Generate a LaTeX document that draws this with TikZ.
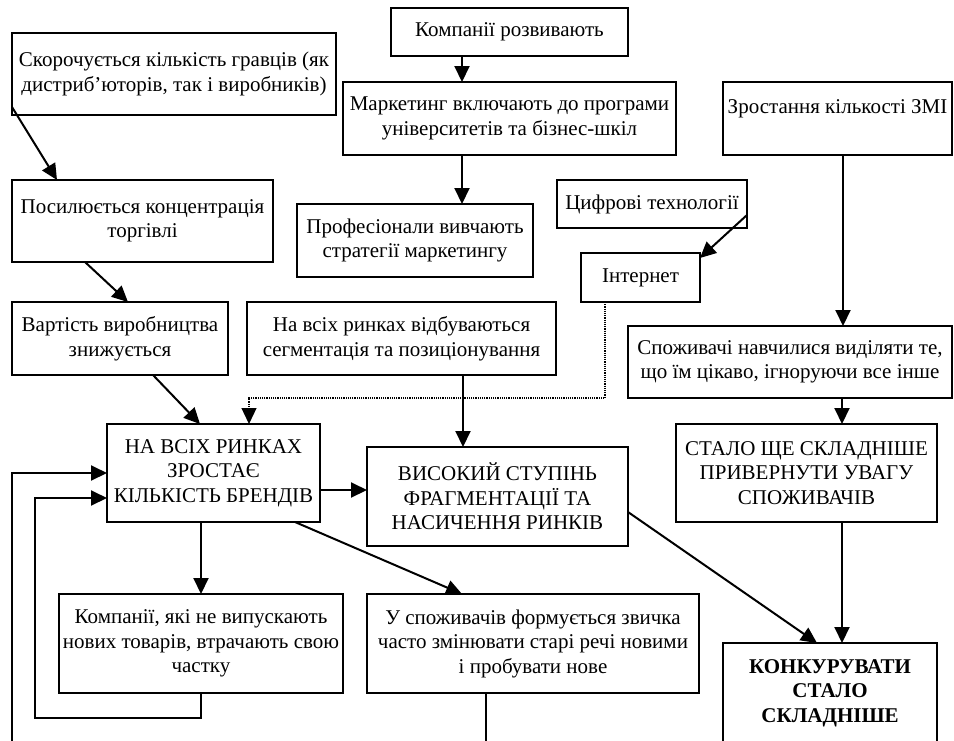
\documentclass[tikz,border=0pt]{standalone}
\usepackage{fontspec}
\setmainfont{Liberation Serif}
\usetikzlibrary{arrows.meta}
\tikzset{
  box/.style={draw, line width=1.5pt, rectangle, inner sep=0pt, outer sep=0pt, align=center,
    font=\fontsize{21}{24.5}\selectfont},
  arr/.style={line width=2pt, -{Triangle[length=16pt,width=15pt]}},
  dotarr/.style={line width=1.2pt, densely dotted, -{Triangle[length=16pt,width=15pt]}},
}
\begin{document}
\begin{tikzpicture}[x=1pt,y=-1pt]
\useasboundingbox (0,0) rectangle (954,740);
\clip (0,0) rectangle (954,740);
\fill[white] (0,0) rectangle (954,740);

\node[box, minimum width=324, minimum height=82] (skor) at (174,74) {Скорочується кількість гравців (як\\дистриб’юторів, так і виробників)};
\node[box, minimum width=261, minimum height=82] (posyl) at (142.5,221) {Посилюється концентрація\\торгівлі};
\node[box, minimum width=237, minimum height=48] (komp) at (509.5,32) {Компанії розвивають};
\node[box, minimum width=333, minimum height=73] (mark) at (509.5,118.5) {Маркетинг включають до програми\\університетів та бізнес-шкіл};
\node[box, minimum width=236, minimum height=73] (prof) at (415,240.5) {Професіонали вивчають\\стратегії маркетингу};
\node[box, minimum width=190, minimum height=48] (tsyfr) at (652,204) {Цифрові технології};
\node[box, minimum width=119, minimum height=49] (inet) at (640.5,277.5) {Інтернет};
\node[box, minimum width=229, minimum height=73] (zmi) at (837.5,118.5) {Зростання кількості ЗМІ\\\mbox{}};
\node[box, minimum width=216, minimum height=73] (vart) at (120,338.5) {Вартість виробництва\\знижується};
\node[box, minimum width=309, minimum height=73] (segm) at (401.5,338.5) {На всіх ринках відбуваються\\сегментація та позиціонування};
\node[box, minimum width=324, minimum height=72] (spoz) at (790,362) {Споживачі навчилися виділяти те,\\що їм цікаво, ігноруючи все інше};
\node[box, minimum width=213, minimum height=98] (brand) at (213.5,473) {НА ВСІХ РИНКАХ\\ЗРОСТАЄ\\КІЛЬКІСТЬ БРЕНДІВ};
\node[box, minimum width=261, minimum height=99] (frag) at (497.5,496.5) {ВИСОКИЙ СТУПІНЬ\\ФРАГМЕНТАЦІЇ ТА\\НАСИЧЕННЯ РИНКІВ};
\node[box, minimum width=261, minimum height=98] (stalo) at (806.5,473) {СТАЛО ЩЕ СКЛАДНІШЕ\\ПРИВЕРНУТИ УВАГУ\\СПОЖИВАЧІВ};
\node[box, minimum width=284, minimum height=99] (kompnot) at (201,643.5) {Компанії, які не випускають\\нових товарів, втрачають свою\\частку};
\node[box, minimum width=332, minimum height=99] (zvych) at (533,643.5) {У споживачів формується звичка\\часто змінювати старі речі новими\\і пробувати нове};
\node[box, minimum width=214, minimum height=100, font=\fontsize{21}{24.5}\selectfont\bfseries] (konk) at (830,693) {КОНКУРУВАТИ\\СТАЛО\\СКЛАДНІШЕ};

\coordinate (loopin) at (35,718);
\coordinate (loopout) at (12,760);

\draw[arr] ([yshift=8]skor.south west) -- ([xshift=45]posyl.north west);
\draw[arr] ([xshift=73]posyl.south west) -- ([xshift=116]vart.north west);
\draw[arr] ([xshift=141]vart.south west) -- ([xshift=93]brand.north west);
\draw[arr] ([xshift=-47.5]komp.south) -- ([xshift=-47.5]mark.north);
\draw[arr] ([xshift=-47.5]mark.south) -- ([xshift=47]prof.north);
\draw[arr] ([yshift=13]tsyfr.south east) -- ([yshift=-5]inet.north east);
\draw[arr] ([xshift=5.5]zmi.south) -- ([xshift=53]spoz.north);
\draw[arr] ([xshift=52]spoz.south) -- ([xshift=35.5]stalo.north);
\draw[arr] ([xshift=35.5]stalo.south) -- ([xshift=12]konk.north);
\draw[arr] ([yshift=34]frag.south east) -- ([xshift=-13]konk.north);
\draw[arr] ([xshift=61.5]segm.south) -- ([xshift=-34.5]frag.north);
\draw[arr] ([yshift=-17]brand.east) -- ([yshift=-17]brand.east -| frag.west);
\draw[dotarr] ([xshift=-35.5]inet.south) -- ++(0,96) -| ([xshift=35.5]brand.north);
\draw[arr] ([xshift=-12.5]brand.south) -- (kompnot.north);
\draw[arr] ([xshift=-25]brand.south east) -- ([xshift=95]zvych.north west);
\draw[arr] (kompnot.south) |- (loopin) |- ([yshift=-25]brand.west);
\draw[arr] ([xshift=-47]zvych.south) |- (loopout) |- (brand.west);
\end{tikzpicture}
\end{document}
